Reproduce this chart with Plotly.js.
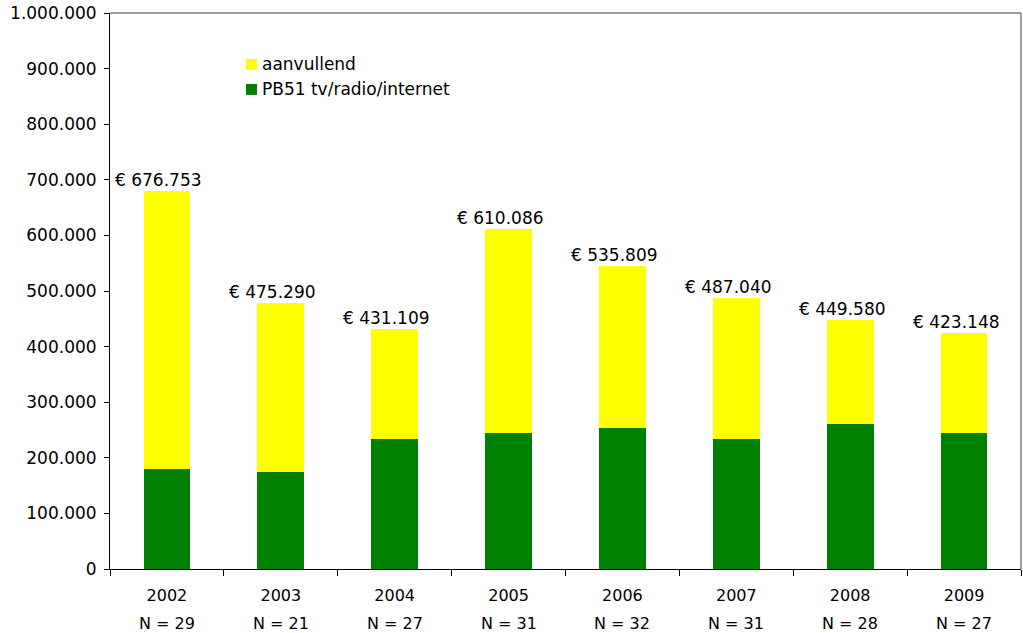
<!DOCTYPE html>
<html>
<head>
<meta charset="utf-8">
<script src="https://cdn.plot.ly/plotly-3.0.1.min.js"></script>
<style>html,body{margin:0;padding:0;background:#fff}#chart{width:1023px;height:633px}</style>
</head>
<body>
<div id="chart"></div>
<script>
const years = ['2002','2003','2004','2005','2006','2007','2008','2009'];
const nLabels = ['N = 29','N = 21','N = 27','N = 31','N = 32','N = 31','N = 28','N = 27'];
const pb51 = [179000, 174000, 233000, 245000, 254000, 234500, 261000, 245000];
const aanvullend = [500000, 304000, 199000, 367000, 291000, 253500, 187000, 180000];
const totalLabels = ['€ 676.753','€ 475.290','€ 431.109','€ 610.086','€ 535.809','€ 487.040','€ 449.580','€ 423.148'];
const seriesNames = ['aanvullend', 'PB51 tv/radio/internet'];
const seriesColors = ['#FFFF00', '#008000'];

const FONT = 'DejaVu Sans, Verdana, sans-serif';

const traces = [
  {type:'bar', name:seriesNames[1], x:years, y:pb51, marker:{color:seriesColors[1]}, hoverinfo:'y'},
  {type:'bar', name:seriesNames[0], x:years, y:aanvullend, marker:{color:seriesColors[0]}, hoverinfo:'y'}
];

// plot-area pixel helpers for the hand-made legend
const L = 110, R = 2, T = 13, B = 63.5, W = 1023, H = 633;
const pw = W - L - R, ph = H - T - B;
const px = v => (v - L) / pw;
const py = v => (H - B - v) / ph;

const annotations = [];
years.forEach((yr,i)=>{
  annotations.push({x:i, y:pb51[i]+aanvullend[i], xref:'x', yref:'y', text:totalLabels[i],
    showarrow:false, yanchor:'bottom', xanchor:'center', xshift:-8, yshift:-1,
    font:{family:FONT, size:17, color:'#000'}});
  annotations.push({x:i, y:0, xref:'x', yref:'paper', text:nLabels[i],
    showarrow:false, yanchor:'middle', xanchor:'center', yshift:-54,
    font:{family:FONT, size:16, color:'#000'}});
});

const shapes = [
  {type:'line', xref:'paper', yref:'paper', x0:0, x1:1, y0:1, y1:1, line:{color:'#808080', width:1.5}},
  {type:'line', xref:'paper', yref:'paper', x0:1, x1:1, y0:0, y1:1, line:{color:'#808080', width:1.5}}
];
seriesNames.forEach((nm, k)=>{
  const top = 59 + 25*k;
  shapes.push({type:'rect', xref:'paper', yref:'paper', x0:px(246), x1:px(257), y0:py(top+11), y1:py(top),
    fillcolor:seriesColors[k], line:{width:0}});
  annotations.push({xref:'paper', yref:'paper', x:px(260), y:py(top+5.5), text:nm, showarrow:false,
    xanchor:'left', yanchor:'middle', font:{family:FONT, size:17, color:'#000'}});
});

const layout = {
  width:W, height:H,
  margin:{l:L, r:R, t:T, b:B},
  paper_bgcolor:'#fff', plot_bgcolor:'#fff',
  separators:',.',
  barmode:'stack', bargap:0.59,
  font:{family:FONT, size:16, color:'#000'},
  showlegend:false,
  xaxis:{type:'category', range:[-0.5, 7.5], autorange:false, showline:true, linecolor:'#000', linewidth:1,
    ticks:'outside', tickson:'boundaries', ticklen:6, tickcolor:'#000', tickangle:0, ticklabelstandoff:12,
    showgrid:false, zeroline:false, tickfont:{family:FONT, size:16}, automargin:false},
  yaxis:{range:[0,1000000], dtick:100000, tickformat:',d', showline:true, linecolor:'#000', linewidth:1,
    ticks:'outside', ticklen:5, tickcolor:'#000', showgrid:false, zeroline:false, ticklabelstandoff:4,
    tickfont:{family:FONT, size:17}, automargin:false},
  shapes:shapes,
  annotations:annotations
};

Plotly.newPlot('chart', traces, layout, {displayModeBar:false, staticPlot:true});
</script>
</body>
</html>
